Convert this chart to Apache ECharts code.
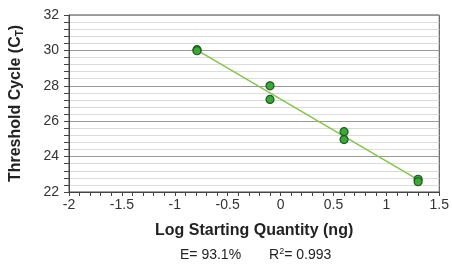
<!DOCTYPE html>
<html>
<head>
<meta charset="utf-8">
<script src="https://cdn.jsdelivr.net/npm/echarts@6/dist/echarts.min.js"></script>
<style>
  html, body { margin: 0; padding: 0; background: #fff; }
  #chart { width: 452px; height: 265px; }
</style>
</head>
<body>
<div id="chart"></div>
<script>
// standard curve points (log ng vs Ct)
const logQty = [-0.79, -0.79, -0.10, -0.10, 0.60, 0.60, 1.30, 1.30]
const ctValues = [30.04, 29.98, 28.0, 27.23, 25.41, 24.96, 22.72, 22.58]
// fitted line ends
const fitX = [-0.79, 1.31]
const fitY = [30.02, 22.66]

const font = "'Liberation Sans Narrow', 'Arial Narrow', 'Liberation Sans', sans-serif"

const chart = echarts.init(document.getElementById('chart'))
chart.setOption({
  animation: false,
  grid: {
    left: 69, right: 10, top: 15, bottom: 73,
    show: true, borderColor: '#444', borderWidth: 1
  },
  xAxis: {
    type: 'value',
    min: -2, max: 1.5, interval: 0.5,
    name: 'Log Starting Quantity (ng)',
    nameLocation: 'middle',
    nameGap: 31,
    nameTextStyle: { fontFamily: font, fontWeight: 'bold', fontSize: 16, color: '#222' },
    axisLine: { lineStyle: { color: '#444' } },
    axisTick: { length: 4, lineStyle: { color: '#444' } },
    minorTick: { show: true, splitNumber: 5, length: 4, lineStyle: { color: '#444' } },
    splitLine: { show: false },
    axisLabel: { fontFamily: font, fontSize: 14, color: '#333', margin: 6 }
  },
  yAxis: {
    type: 'value',
    min: 22, max: 32, interval: 2,
    name: '{t|Threshold Cycle (C}{s|T}{t|)}',
    nameLocation: 'middle',
    nameGap: 44,
    nameTextStyle: {
      rich: {
        t: { fontFamily: font, fontWeight: 'bold', fontSize: 16, color: '#222' },
        s: { fontFamily: font, fontWeight: 'bold', fontSize: 10, color: '#222', verticalAlign: 'bottom', padding: [8, 0, 0, 0] }
      }
    },
    axisLine: { show: true, onZero: false, lineStyle: { color: '#444' } },
    axisTick: { show: true, length: 5, lineStyle: { color: '#444' } },
    minorTick: { show: true, splitNumber: 5, length: 5, lineStyle: { color: '#444' } },
    splitLine: { lineStyle: { color: '#999' } },
    minorSplitLine: { show: true, lineStyle: { color: '#dcdcdc' } },
    axisLabel: { fontFamily: font, fontSize: 14, color: '#333', margin: 10 }
  },
  series: [
    {
      type: 'line',
      data: fitX.map((x, i) => [x, fitY[i]]),
      showSymbol: false,
      lineStyle: { color: '#86c450', width: 1.5 },
      z: 2
    },
    {
      type: 'scatter',
      data: logQty.map((x, i) => [x, ctValues[i]]),
      symbolSize: 8,
      itemStyle: { color: '#3ca83a', borderColor: '#1f5a1f', borderWidth: 1.2, opacity: 1 },
      z: 3
    }
  ],
  graphic: [
    {
      type: 'text',
      left: 180, top: 247,
      style: {
        text: '{a|E= 93.1%}{g|}{a|R}{p|2}{a|= 0.993}',
        rich: {
          a: { fontFamily: font, fontSize: 14, fill: '#222' },
          g: { width: 28 },
          p: { fontFamily: font, fontSize: 9, fill: '#222', verticalAlign: 'top', padding: [0, 0, 8, 0] }
        }
      }
    }
  ]
})
</script>
</body>
</html>
